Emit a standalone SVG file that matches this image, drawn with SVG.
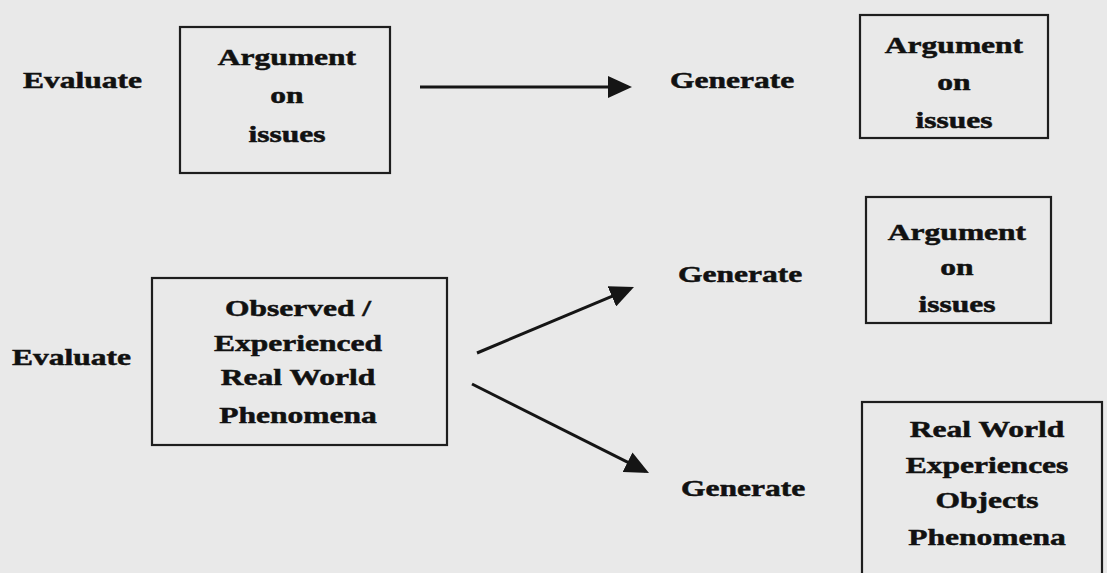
<svg xmlns="http://www.w3.org/2000/svg" width="1107" height="573" viewBox="0 0 1107 573">
  <style>
    .bg { fill: #e9e9e9; }
    .box { fill: none; stroke: #1e1e1e; stroke-width: 2.2; }
    .t { font-family: "Liberation Serif", "Times New Roman", serif; font-weight: bold; font-size: 23px; fill: #111; stroke: #111; stroke-width: 0.5; }
    .c { text-anchor: middle; }
    .link { fill: none; stroke: #151515; stroke-width: 3; }
  </style>
  <defs>
    <marker id="head" markerUnits="userSpaceOnUse" viewBox="0 0 24 22" refX="20" refY="11" markerWidth="24" markerHeight="22" orient="auto">
      <path d="M0,0 L24,11 L0,22 Z" fill="#151515"/>
    </marker>
  </defs>

  <rect class="bg" x="0" y="0" width="1107" height="573"/>

  <!-- row 1 -->
  <g id="evaluate-top">
    <text class="t" transform="translate(23,88) scale(1.37,1)">Evaluate</text>
  </g>
  <g id="argument-source">
    <rect class="box" x="180" y="27" width="210" height="146"/>
    <text class="t c" transform="translate(287,65) scale(1.37,1)">Argument</text>
    <text class="t c" transform="translate(287,103) scale(1.37,1)">on</text>
    <text class="t c" transform="translate(287,142) scale(1.37,1)">issues</text>
  </g>
  <g id="generate-top">
    <text class="t" transform="translate(670,88) scale(1.37,1)">Generate</text>
  </g>
  <g id="argument-result-1">
    <rect class="box" x="860" y="15" width="188" height="123"/>
    <text class="t c" transform="translate(954,53) scale(1.37,1)">Argument</text>
    <text class="t c" transform="translate(954,90) scale(1.37,1)">on</text>
    <text class="t c" transform="translate(954,128) scale(1.37,1)">issues</text>
  </g>

  <!-- row 2 -->
  <g id="evaluate-middle">
    <text class="t" transform="translate(12,365) scale(1.37,1)">Evaluate</text>
  </g>
  <g id="phenomena-source">
    <rect class="box" x="152" y="278" width="295" height="167"/>
    <text class="t c" transform="translate(298,316) scale(1.37,1)">Observed /</text>
    <text class="t c" transform="translate(298,351) scale(1.37,1)">Experienced</text>
    <text class="t c" transform="translate(298,385) scale(1.37,1)">Real World</text>
    <text class="t c" transform="translate(298,423) scale(1.37,1)">Phenomena</text>
  </g>
  <g id="generate-middle">
    <text class="t" transform="translate(678,282) scale(1.37,1)">Generate</text>
  </g>
  <g id="argument-result-2">
    <rect class="box" x="866" y="197" width="185" height="126"/>
    <text class="t c" transform="translate(957,240) scale(1.37,1)">Argument</text>
    <text class="t c" transform="translate(957,275) scale(1.37,1)">on</text>
    <text class="t c" transform="translate(957,312) scale(1.37,1)">issues</text>
  </g>
  <g id="generate-bottom">
    <text class="t" transform="translate(681,496) scale(1.37,1)">Generate</text>
  </g>
  <g id="experiences-result">
    <rect class="box" x="862" y="402" width="240" height="190"/>
    <text class="t c" transform="translate(987,437) scale(1.37,1)">Real World</text>
    <text class="t c" transform="translate(987,473) scale(1.37,1)">Experiences</text>
    <text class="t c" transform="translate(987,508) scale(1.37,1)">Objects</text>
    <text class="t c" transform="translate(987,545) scale(1.37,1)">Phenomena</text>
  </g>

  <!-- connectors -->
  <g id="connectors">
    <line class="link" x1="420" y1="87" x2="628" y2="87" marker-end="url(#head)"/>
    <line class="link" x1="477" y1="353" x2="630.3" y2="288.6" marker-end="url(#head)"/>
    <line class="link" x1="472" y1="384" x2="645.4" y2="471.2" marker-end="url(#head)"/>
  </g>
</svg>
